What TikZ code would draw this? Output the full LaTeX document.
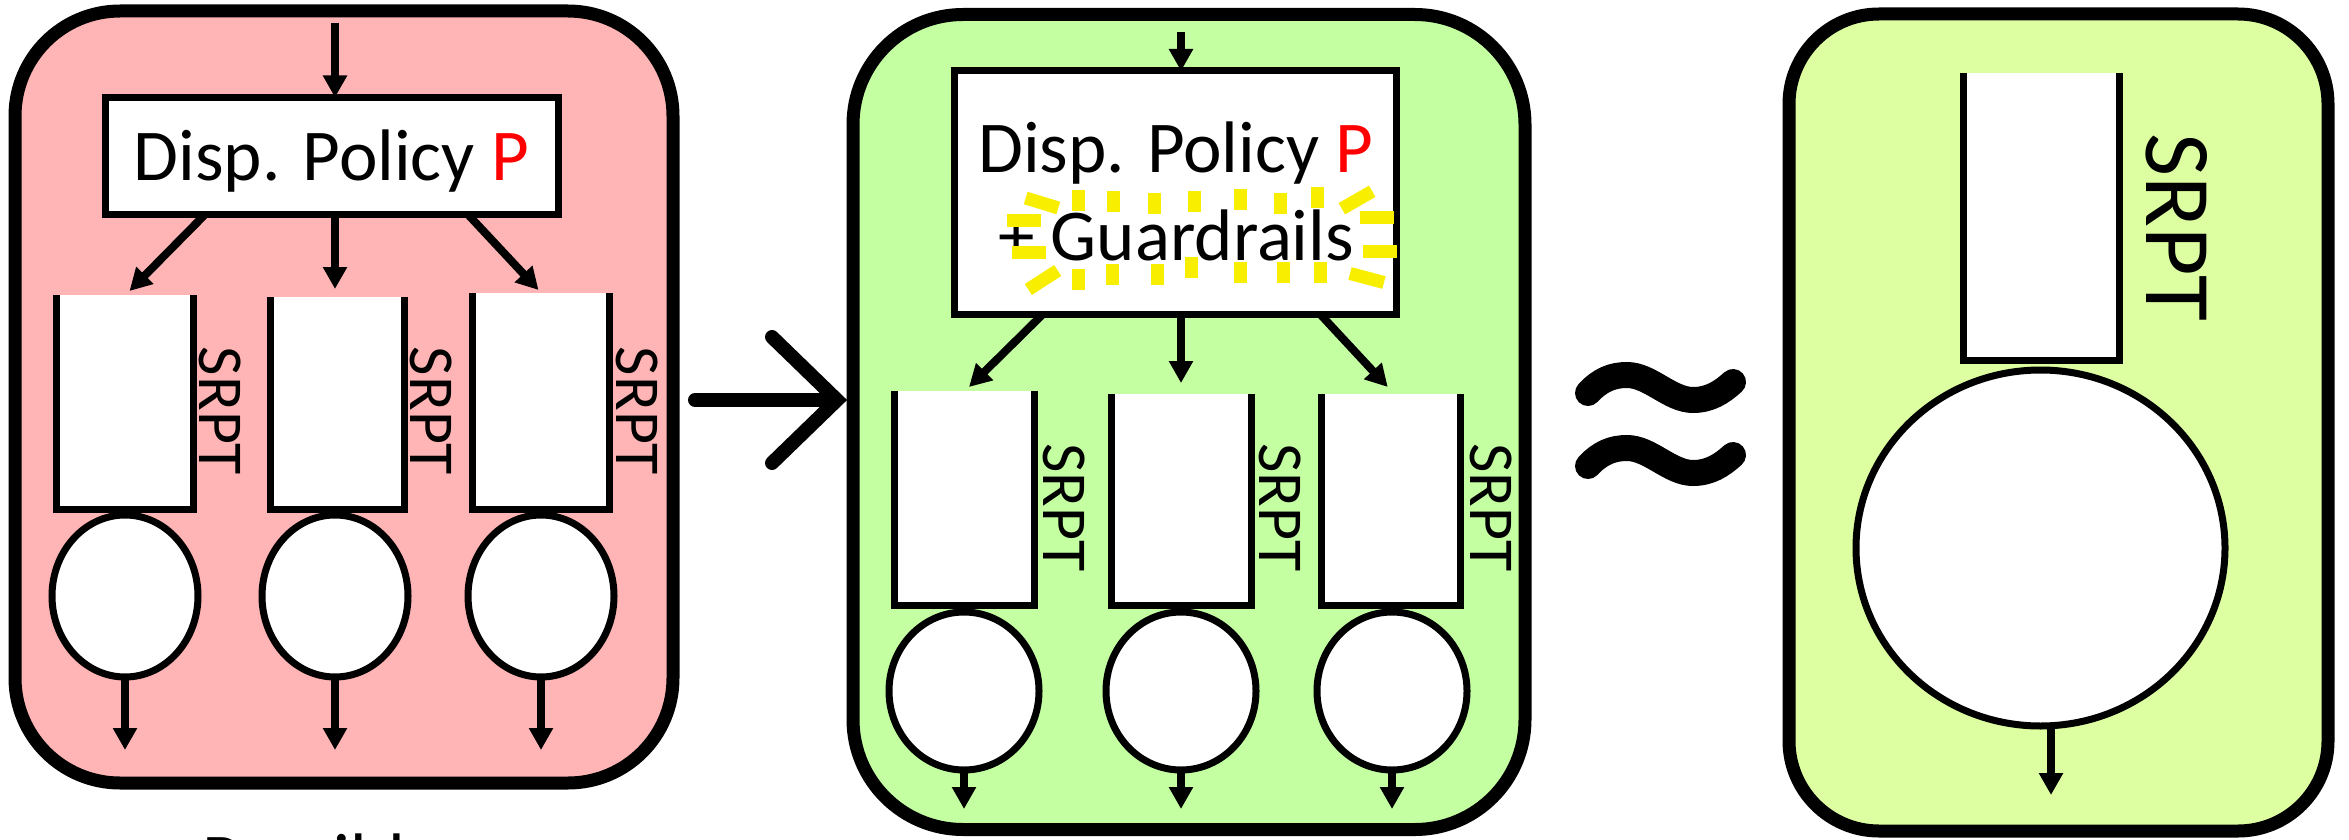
\documentclass[tikz,border=0pt]{standalone}
\usepackage{fontspec}
\setmainfont{Carlito}
\usetikzlibrary{arrows.meta,shapes.geometric}
\definecolor{pinkfill}{RGB}{255,181,181}
\definecolor{greenfill}{RGB}{196,255,162}
\definecolor{limefill}{RGB}{221,255,161}
\definecolor{glow}{RGB}{247,238,0}
\definecolor{policyred}{RGB}{255,0,0}
\newcommand\dispfont{\fontsize{73pt}{88pt}\selectfont}
\newcommand\srptfont{\fontsize{64pt}{76pt}\selectfont}
\newcommand\bigsrptfont{\fontsize{94pt}{112pt}\selectfont}
\begin{document}
\begin{tikzpicture}[x=1pt,y=-1pt,
  panel/.style={draw=black, line width=13pt, rounded corners=#1, inner sep=0pt, outer sep=0pt},
  dispbox/.style={draw=black, fill=white, line width=7pt, inner sep=0pt, outer sep=0pt},
  qfill/.style={fill=white, inner sep=0pt, outer sep=0pt},
  qline/.style={line width=7pt, line join=miter},
  srv/.style={ellipse, draw=black, fill=white, line width=7pt, inner sep=0pt, outer sep=0pt},
  arr/.style={line width=8pt, -{Triangle[width=23pt,length=22pt]}},
  lbl/.style={inner sep=0pt, outer sep=0pt},
  ydash/.style={draw=glow, line width=13pt},
  tilde/.style={line width=26pt, line cap=round},
  bigarr/.style={line width=14pt, line cap=round, line join=miter}
]
\useasboundingbox (0,0) rectangle (2349,840);
\clip (0,0) rectangle (2349,840);
\fill[white] (0,0) rectangle (2349,840);

% ---------- panels ----------
\node[panel=105pt, fill=pinkfill, minimum width=658pt, minimum height=772pt] (P1) at (344,397) {};
\node[panel=110pt, fill=greenfill, minimum width=672pt, minimum height=815pt] (P2) at (1189,422) {};
\node[panel=90pt, fill=limefill, minimum width=539pt, minimum height=817pt] (P3) at (2058.5,422.5) {};

% ---------- panel 1 ----------
\node[dispbox, minimum width=453pt, minimum height=117pt] (d1) at (331.5,156) {};
\node[lbl, anchor=base, font=\dispfont] (t1) at (331.5,180) {Disp. Policy \textcolor{policyred}{P}};
\coordinate (in1) at (335,23);
\draw[arr] (in1) -- ([xshift=3.5pt]d1.north);

\node[qfill, minimum width=137pt, minimum height=214pt] (q11) at (124.5,402) {};
\node[qfill, minimum width=134pt, minimum height=212pt] (q12) at (337,403) {};
\node[qfill, minimum width=137pt, minimum height=216pt] (q13) at (540.5,401) {};
\foreach \q in {q11,q12,q13}
  \draw[qline] (\q.north west) -- (\q.south west) -- (\q.south east) -- (\q.north east);

\draw[arr] ([xshift=-126.5pt]d1.south) -- ([xshift=5pt,yshift=4pt]q11.north);
\draw[arr] ([xshift=3.5pt]d1.south) -- ([xshift=-2pt,yshift=8pt]q12.north);
\draw[arr] ([xshift=136.5pt]d1.south) -- ([xshift=-2pt,yshift=3pt]q13.north);

\node[lbl, rotate=-90, font=\srptfont] (s11) at (220.5,411) {SRPT};
\node[lbl, rotate=-90, font=\srptfont] (s12) at (431.5,411) {SRPT};
\node[lbl, rotate=-90, font=\srptfont] (s13) at (637,411) {SRPT};

\node[srv, minimum width=146pt, minimum height=162pt] (c11) at (125,596) {};
\node[srv, minimum width=146pt, minimum height=162pt] (c12) at (335,596) {};
\node[srv, minimum width=146pt, minimum height=162pt] (c13) at (541,596) {};
\coordinate (o11) at (125,750);
\coordinate (o12) at (335,750);
\coordinate (o13) at (541,750);
\draw[arr] (c11.south) -- (o11);
\draw[arr] (c12.south) -- (o12);
\draw[arr] (c13.south) -- (o13);

\node[lbl, anchor=base west, font=\dispfont] (poss) at (202,884) {Possible};

% ---------- arrow between panels ----------
\draw[bigarr] (695,400) -- (832,400);
\draw[bigarr] (772,337) -- (837,400) -- (772,463);

% ---------- panel 2 ----------
\node[dispbox, minimum width=442pt, minimum height=243pt] (d2) at (1175,192.5) {};
\coordinate (in2) at (1181,32);
\draw[arr] (in2) -- ([xshift=6pt]d2.north);
\node[lbl, anchor=base, font=\dispfont] (t21) at (1176,172) {Disp. Policy \textcolor{policyred}{P}};
\node[lbl, anchor=base, font=\dispfont] (t22) at (1176,260) {+ Guardrails};

% glow dashes
\draw[ydash] (1025.7,198) -- (1058.3,208);
\foreach \x/\y in {1078/200,1113/201,1154/203,1194/201,1240/199,1280/203,1317/197,
                   1320/272,1283/272,1240/272,1191/267,1157/274,1112/274,1078/279}
  \draw[ydash] (\x,\y-10.5) -- (\x,\y+10.5);
\draw[ydash] (1341.8,208.7) -- (1372.2,191.3);
\draw[ydash] (1360,217) -- (1394,217);
\draw[ydash] (1363,251) -- (1397,251);
\draw[ydash] (1350,273.5) -- (1384,282.5);
\draw[ydash] (1028.3,289.5) -- (1057.7,270.5);
\draw[ydash] (1007,220) -- (1041,220);
\draw[ydash] (1012,252) -- (1046,252);

\node[qfill, minimum width=140pt, minimum height=214pt] (q21) at (964,498) {};
\node[qfill, minimum width=140pt, minimum height=211pt] (q22) at (1181,499.5) {};
\node[qfill, minimum width=139.5pt, minimum height=211pt] (q23) at (1390.75,499.5) {};
\foreach \q in {q21,q22,q23}
  \draw[qline] (\q.north west) -- (\q.south west) -- (\q.south east) -- (\q.north east);

\draw[arr] ([xshift=-132pt]d2.south) -- ([xshift=5pt,yshift=4pt]q21.north);
\draw[arr] ([xshift=6pt]d2.south) -- ([yshift=11pt]q22.north);
\draw[arr] ([xshift=145pt]d2.south) -- ([xshift=-3pt,yshift=7pt]q23.north);

\node[lbl, rotate=-90, font=\srptfont] (s21) at (1064,507.5) {SRPT};
\node[lbl, rotate=-90, font=\srptfont] (s22) at (1280.5,507.5) {SRPT};
\node[lbl, rotate=-90, font=\srptfont] (s23) at (1491.5,507.5) {SRPT};

\node[srv, minimum width=150pt, minimum height=158pt] (c21) at (964,691) {};
\node[srv, minimum width=150pt, minimum height=158pt] (c22) at (1181,691) {};
\node[srv, minimum width=150pt, minimum height=158pt] (c23) at (1392,691) {};
\coordinate (o21) at (964,809);
\coordinate (o22) at (1181,809);
\coordinate (o23) at (1392,809);
\draw[arr] (c21.south) -- (o21);
\draw[arr] (c22.south) -- (o22);
\draw[arr] (c23.south) -- (o23);

% ---------- approx sign ----------
\draw[tilde] (1588,393) .. controls (1600,380) and (1612,375) .. (1627,375)
  .. controls (1650,375) and (1670,400) .. (1693,400)
  .. controls (1710,400) and (1722,392) .. (1733,382);
\draw[tilde] (1588,466) .. controls (1600,453) and (1612,448) .. (1627,448)
  .. controls (1650,448) and (1670,473) .. (1693,473)
  .. controls (1710,473) and (1722,465) .. (1733,455);

% ---------- panel 3 ----------
\node[qfill, minimum width=156pt, minimum height=287pt] (q3) at (2041,216.5) {};
\draw[qline] (q3.north west) -- (q3.south west) -- (q3.south east) -- (q3.north east);
\node[lbl, rotate=-90, font=\bigsrptfont] (s3) at (2176.5,227.5) {SRPT};
\node[srv, minimum width=369pt, minimum height=356pt] (c3) at (2040.5,548) {};
\coordinate (o3) at (2051,795);
\draw[arr] ([xshift=10.5pt]c3.south) -- (o3);
\end{tikzpicture}
\end{document}
